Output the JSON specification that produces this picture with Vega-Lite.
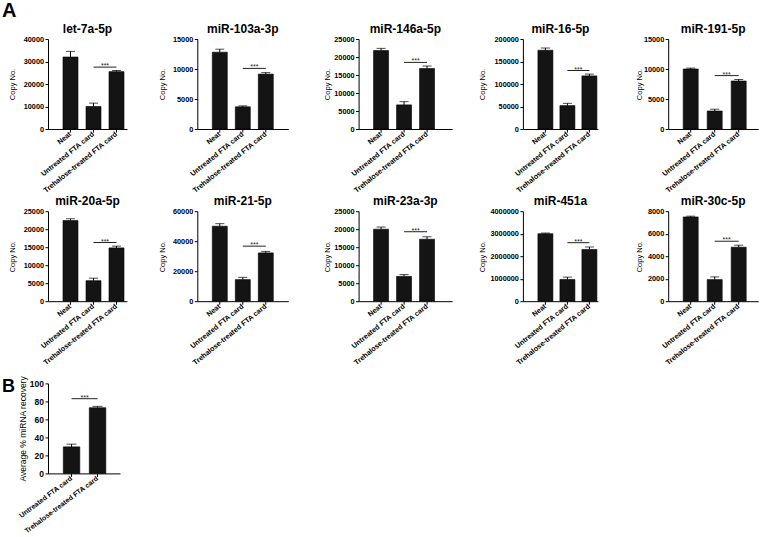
{
"$schema": "https://vega.github.io/schema/vega-lite/v6.json",
"background": "white",
"padding": {"left": 2, "top": 1, "right": 0, "bottom": 0},
"title": {"text": "A", "anchor": "start", "frame": "group", "fontSize": 20, "offset": 2, "dx": -46},
"columns": 5,
"align": "each",
"bounds": "flush",
"spacing": {"row": 82.2, "column": 70.3},
"datasets": {
"bars": [
{"panel": "let-7a-5p", "group": "Neat", "value": 32000, "upper": 34500},
{"panel": "let-7a-5p", "group": "Untreated FTA card", "value": 10000, "upper": 11500},
{"panel": "let-7a-5p", "group": "Trehalose-treated FTA card", "value": 25500, "upper": 26000},
{"panel": "miR-103a-3p", "group": "Neat", "value": 12800, "upper": 13300},
{"panel": "miR-103a-3p", "group": "Untreated FTA card", "value": 3700, "upper": 3850},
{"panel": "miR-103a-3p", "group": "Trehalose-treated FTA card", "value": 9150, "upper": 9400},
{"panel": "miR-146a-5p", "group": "Neat", "value": 21800, "upper": 22400},
{"panel": "miR-146a-5p", "group": "Untreated FTA card", "value": 6700, "upper": 7600},
{"panel": "miR-146a-5p", "group": "Trehalose-treated FTA card", "value": 16800, "upper": 17500},
{"panel": "miR-16-5p", "group": "Neat", "value": 175000, "upper": 180000},
{"panel": "miR-16-5p", "group": "Untreated FTA card", "value": 52000, "upper": 57000},
{"panel": "miR-16-5p", "group": "Trehalose-treated FTA card", "value": 118000, "upper": 122000},
{"panel": "miR-191-5p", "group": "Neat", "value": 10000, "upper": 10150},
{"panel": "miR-191-5p", "group": "Untreated FTA card", "value": 3000, "upper": 3300},
{"panel": "miR-191-5p", "group": "Trehalose-treated FTA card", "value": 8000, "upper": 8250},
{"panel": "miR-20a-5p", "group": "Neat", "value": 22400, "upper": 22900},
{"panel": "miR-20a-5p", "group": "Untreated FTA card", "value": 5700, "upper": 6400},
{"panel": "miR-20a-5p", "group": "Trehalose-treated FTA card", "value": 14800, "upper": 15300},
{"panel": "miR-21-5p", "group": "Neat", "value": 50000, "upper": 51700},
{"panel": "miR-21-5p", "group": "Untreated FTA card", "value": 14400, "upper": 15900},
{"panel": "miR-21-5p", "group": "Trehalose-treated FTA card", "value": 32200, "upper": 33200},
{"panel": "miR-23a-3p", "group": "Neat", "value": 20000, "upper": 20600},
{"panel": "miR-23a-3p", "group": "Untreated FTA card", "value": 6900, "upper": 7400},
{"panel": "miR-23a-3p", "group": "Trehalose-treated FTA card", "value": 17200, "upper": 17900},
{"panel": "miR-451a", "group": "Neat", "value": 3000000, "upper": 3030000},
{"panel": "miR-451a", "group": "Untreated FTA card", "value": 965000, "upper": 1070000},
{"panel": "miR-451a", "group": "Trehalose-treated FTA card", "value": 2300000, "upper": 2410000},
{"panel": "miR-30c-5p", "group": "Neat", "value": 7490, "upper": 7560},
{"panel": "miR-30c-5p", "group": "Untreated FTA card", "value": 1920, "upper": 2160},
{"panel": "miR-30c-5p", "group": "Trehalose-treated FTA card", "value": 4800, "upper": 4980},
{"panel": "B", "group": "Untreated FTA card", "value": 29.5, "upper": 32.5},
{"panel": "B", "group": "Trehalose-treated FTA card", "value": 73, "upper": 74.5}
],
"sig": [
{"panel": "let-7a-5p", "from": "Untreated FTA card", "to": "Trehalose-treated FTA card", "y": 27500, "label": "***"},
{"panel": "miR-103a-3p", "from": "Untreated FTA card", "to": "Trehalose-treated FTA card", "y": 10100, "label": "***"},
{"panel": "miR-146a-5p", "from": "Untreated FTA card", "to": "Trehalose-treated FTA card", "y": 18500, "label": "***"},
{"panel": "miR-16-5p", "from": "Untreated FTA card", "to": "Trehalose-treated FTA card", "y": 130000, "label": "***"},
{"panel": "miR-191-5p", "from": "Untreated FTA card", "to": "Trehalose-treated FTA card", "y": 8900, "label": "***"},
{"panel": "miR-20a-5p", "from": "Untreated FTA card", "to": "Trehalose-treated FTA card", "y": 16300, "label": "***"},
{"panel": "miR-21-5p", "from": "Untreated FTA card", "to": "Trehalose-treated FTA card", "y": 36700, "label": "***"},
{"panel": "miR-23a-3p", "from": "Untreated FTA card", "to": "Trehalose-treated FTA card", "y": 19300, "label": "***"},
{"panel": "miR-451a", "from": "Untreated FTA card", "to": "Trehalose-treated FTA card", "y": 2600000, "label": "***"},
{"panel": "miR-30c-5p", "from": "Untreated FTA card", "to": "Trehalose-treated FTA card", "y": 5330, "label": "***"},
{"panel": "B", "from": "Untreated FTA card", "to": "Trehalose-treated FTA card", "y": 83, "label": "***"}
]
},
"concat": [
{"width": 79, "height": 90, "title": "let-7a-5p", "layer": [
 {"data": {"name": "bars"}, "transform": [{"filter": "datum.panel === 'let-7a-5p'"}], "mark": {"type": "bar", "color": "#141414", "stroke": "#000", "strokeWidth": 0.6},
  "encoding": {"x": {"field": "group", "type": "nominal", "scale": {"domain": ["Neat", "Untreated FTA card", "Trehalose-treated FTA card"], "paddingInner": 0.348, "paddingOuter": 0.391, "align": 0.833}, "axis": {"title": null}},
   "y": {"field": "value", "type": "quantitative", "scale": {"domain": [0, 40000], "nice": false}, "axis": {"title": "Copy No.", "values": [0, 10000, 20000, 30000, 40000], "tickCount": 12, "format": "d", "minExtent": 29.25, "maxExtent": 29.25}}}},
 {"data": {"name": "bars"}, "transform": [{"filter": "datum.panel === 'let-7a-5p'"}], "mark": {"type": "rule", "color": "#000", "strokeWidth": 1},
  "encoding": {"x": {"field": "group", "type": "nominal", "title": null}, "y": {"field": "value", "type": "quantitative"}, "y2": {"field": "upper"}}},
 {"data": {"name": "bars"}, "transform": [{"filter": "datum.panel === 'let-7a-5p'"}], "mark": {"type": "tick", "orient": "horizontal", "color": "#000", "thickness": 1, "size": 9},
  "encoding": {"x": {"field": "group", "type": "nominal", "title": null}, "y": {"field": "upper", "type": "quantitative"}}},
 {"data": {"name": "sig"}, "transform": [{"filter": "datum.panel === 'let-7a-5p'"}], "mark": {"type": "rule", "color": "#222", "strokeWidth": 1},
  "encoding": {"x": {"field": "from", "type": "nominal", "title": null}, "x2": {"field": "to"}, "y": {"field": "y", "type": "quantitative"}}},
 {"data": {"name": "sig"}, "transform": [{"filter": "datum.panel === 'let-7a-5p'"}], "mark": {"type": "text", "fontSize": 7, "baseline": "alphabetic", "dy": 1, "color": "#222"},
  "encoding": {"x": {"field": "from", "type": "nominal", "bandPosition": 1.267, "title": null}, "y": {"field": "y", "type": "quantitative"}, "text": {"field": "label"}}}
]},
{"width": 91, "height": 90, "title": "miR-103a-3p", "layer": [
 {"data": {"name": "bars"}, "transform": [{"filter": "datum.panel === 'miR-103a-3p'"}], "mark": {"type": "bar", "color": "#141414", "stroke": "#000", "strokeWidth": 0.6},
  "encoding": {"x": {"field": "group", "type": "nominal", "scale": {"domain": ["Neat", "Untreated FTA card", "Trehalose-treated FTA card"], "paddingInner": 0.348, "paddingOuter": 0.652, "align": 0.5}, "axis": {"title": null}},
   "y": {"field": "value", "type": "quantitative", "scale": {"domain": [0, 15000], "nice": false}, "axis": {"title": "Copy No.", "values": [0, 5000, 10000, 15000], "tickCount": 12, "format": "d", "minExtent": 28.55, "maxExtent": 28.55}}}},
 {"data": {"name": "bars"}, "transform": [{"filter": "datum.panel === 'miR-103a-3p'"}], "mark": {"type": "rule", "color": "#000", "strokeWidth": 1},
  "encoding": {"x": {"field": "group", "type": "nominal", "title": null}, "y": {"field": "value", "type": "quantitative"}, "y2": {"field": "upper"}}},
 {"data": {"name": "bars"}, "transform": [{"filter": "datum.panel === 'miR-103a-3p'"}], "mark": {"type": "tick", "orient": "horizontal", "color": "#000", "thickness": 1, "size": 9},
  "encoding": {"x": {"field": "group", "type": "nominal", "title": null}, "y": {"field": "upper", "type": "quantitative"}}},
 {"data": {"name": "sig"}, "transform": [{"filter": "datum.panel === 'miR-103a-3p'"}], "mark": {"type": "rule", "color": "#222", "strokeWidth": 1},
  "encoding": {"x": {"field": "from", "type": "nominal", "title": null}, "x2": {"field": "to"}, "y": {"field": "y", "type": "quantitative"}}},
 {"data": {"name": "sig"}, "transform": [{"filter": "datum.panel === 'miR-103a-3p'"}], "mark": {"type": "text", "fontSize": 7, "baseline": "alphabetic", "dy": 1, "color": "#222"},
  "encoding": {"x": {"field": "from", "type": "nominal", "bandPosition": 1.267, "title": null}, "y": {"field": "y", "type": "quantitative"}, "text": {"field": "label"}}}
]},
{"width": 93.5, "height": 90, "title": "miR-146a-5p", "layer": [
 {"data": {"name": "bars"}, "transform": [{"filter": "datum.panel === 'miR-146a-5p'"}], "mark": {"type": "bar", "color": "#141414", "stroke": "#000", "strokeWidth": 0.6},
  "encoding": {"x": {"field": "group", "type": "nominal", "scale": {"domain": ["Neat", "Untreated FTA card", "Trehalose-treated FTA card"], "paddingInner": 0.348, "paddingOuter": 0.707, "align": 0.46}, "axis": {"title": null}},
   "y": {"field": "value", "type": "quantitative", "scale": {"domain": [0, 25000], "nice": false}, "axis": {"title": "Copy No.", "values": [0, 5000, 10000, 15000, 20000, 25000], "tickCount": 12, "format": "d", "minExtent": 25.25, "maxExtent": 25.25}}}},
 {"data": {"name": "bars"}, "transform": [{"filter": "datum.panel === 'miR-146a-5p'"}], "mark": {"type": "rule", "color": "#000", "strokeWidth": 1},
  "encoding": {"x": {"field": "group", "type": "nominal", "title": null}, "y": {"field": "value", "type": "quantitative"}, "y2": {"field": "upper"}}},
 {"data": {"name": "bars"}, "transform": [{"filter": "datum.panel === 'miR-146a-5p'"}], "mark": {"type": "tick", "orient": "horizontal", "color": "#000", "thickness": 1, "size": 9},
  "encoding": {"x": {"field": "group", "type": "nominal", "title": null}, "y": {"field": "upper", "type": "quantitative"}}},
 {"data": {"name": "sig"}, "transform": [{"filter": "datum.panel === 'miR-146a-5p'"}], "mark": {"type": "rule", "color": "#222", "strokeWidth": 1},
  "encoding": {"x": {"field": "from", "type": "nominal", "title": null}, "x2": {"field": "to"}, "y": {"field": "y", "type": "quantitative"}}},
 {"data": {"name": "sig"}, "transform": [{"filter": "datum.panel === 'miR-146a-5p'"}], "mark": {"type": "text", "fontSize": 7, "baseline": "alphabetic", "dy": 1, "color": "#222"},
  "encoding": {"x": {"field": "from", "type": "nominal", "bandPosition": 1.267, "title": null}, "y": {"field": "y", "type": "quantitative"}, "text": {"field": "label"}}}
]},
{"width": 75, "height": 90, "title": "miR-16-5p", "layer": [
 {"data": {"name": "bars"}, "transform": [{"filter": "datum.panel === 'miR-16-5p'"}], "mark": {"type": "bar", "color": "#141414", "stroke": "#000", "strokeWidth": 0.6},
  "encoding": {"x": {"field": "group", "type": "nominal", "scale": {"domain": ["Neat", "Untreated FTA card", "Trehalose-treated FTA card"], "paddingInner": 0.318, "paddingOuter": 0.364, "align": 0.9375}, "axis": {"title": null}},
   "y": {"field": "value", "type": "quantitative", "scale": {"domain": [0, 200000], "nice": false}, "axis": {"title": "Copy No.", "values": [0, 50000, 100000, 150000, 200000], "tickCount": 12, "format": "d", "minExtent": 34.65, "maxExtent": 34.65}}}},
 {"data": {"name": "bars"}, "transform": [{"filter": "datum.panel === 'miR-16-5p'"}], "mark": {"type": "rule", "color": "#000", "strokeWidth": 1},
  "encoding": {"x": {"field": "group", "type": "nominal", "title": null}, "y": {"field": "value", "type": "quantitative"}, "y2": {"field": "upper"}}},
 {"data": {"name": "bars"}, "transform": [{"filter": "datum.panel === 'miR-16-5p'"}], "mark": {"type": "tick", "orient": "horizontal", "color": "#000", "thickness": 1, "size": 9},
  "encoding": {"x": {"field": "group", "type": "nominal", "title": null}, "y": {"field": "upper", "type": "quantitative"}}},
 {"data": {"name": "sig"}, "transform": [{"filter": "datum.panel === 'miR-16-5p'"}], "mark": {"type": "rule", "color": "#222", "strokeWidth": 1},
  "encoding": {"x": {"field": "from", "type": "nominal", "title": null}, "x2": {"field": "to"}, "y": {"field": "y", "type": "quantitative"}}},
 {"data": {"name": "sig"}, "transform": [{"filter": "datum.panel === 'miR-16-5p'"}], "mark": {"type": "text", "fontSize": 7, "baseline": "alphabetic", "dy": 1, "color": "#222"},
  "encoding": {"x": {"field": "from", "type": "nominal", "bandPosition": 1.233, "title": null}, "y": {"field": "y", "type": "quantitative"}, "text": {"field": "label"}}}
]},
{"width": 90, "height": 90, "title": "miR-191-5p", "layer": [
 {"data": {"name": "bars"}, "transform": [{"filter": "datum.panel === 'miR-191-5p'"}], "mark": {"type": "bar", "color": "#141414", "stroke": "#000", "strokeWidth": 0.6},
  "encoding": {"x": {"field": "group", "type": "nominal", "scale": {"domain": ["Neat", "Untreated FTA card", "Trehalose-treated FTA card"], "paddingInner": 0.375, "paddingOuter": 0.5625, "align": 0.556}, "axis": {"title": null}},
   "y": {"field": "value", "type": "quantitative", "scale": {"domain": [0, 15000], "nice": false}, "axis": {"title": "Copy No.", "values": [0, 5000, 10000, 15000], "tickCount": 12, "format": "d", "minExtent": 23, "maxExtent": 23}}}},
 {"data": {"name": "bars"}, "transform": [{"filter": "datum.panel === 'miR-191-5p'"}], "mark": {"type": "rule", "color": "#000", "strokeWidth": 1},
  "encoding": {"x": {"field": "group", "type": "nominal", "title": null}, "y": {"field": "value", "type": "quantitative"}, "y2": {"field": "upper"}}},
 {"data": {"name": "bars"}, "transform": [{"filter": "datum.panel === 'miR-191-5p'"}], "mark": {"type": "tick", "orient": "horizontal", "color": "#000", "thickness": 1, "size": 9},
  "encoding": {"x": {"field": "group", "type": "nominal", "title": null}, "y": {"field": "upper", "type": "quantitative"}}},
 {"data": {"name": "sig"}, "transform": [{"filter": "datum.panel === 'miR-191-5p'"}], "mark": {"type": "rule", "color": "#222", "strokeWidth": 1},
  "encoding": {"x": {"field": "from", "type": "nominal", "title": null}, "x2": {"field": "to"}, "y": {"field": "y", "type": "quantitative"}}},
 {"data": {"name": "sig"}, "transform": [{"filter": "datum.panel === 'miR-191-5p'"}], "mark": {"type": "text", "fontSize": 7, "baseline": "alphabetic", "dy": 1, "color": "#222"},
  "encoding": {"x": {"field": "from", "type": "nominal", "bandPosition": 1.3, "title": null}, "y": {"field": "y", "type": "quantitative"}, "text": {"field": "label"}}}
]},
{"width": 79, "height": 90, "title": "miR-20a-5p", "layer": [
 {"data": {"name": "bars"}, "transform": [{"filter": "datum.panel === 'miR-20a-5p'"}], "mark": {"type": "bar", "color": "#141414", "stroke": "#000", "strokeWidth": 0.6},
  "encoding": {"x": {"field": "group", "type": "nominal", "scale": {"domain": ["Neat", "Untreated FTA card", "Trehalose-treated FTA card"], "paddingInner": 0.348, "paddingOuter": 0.391, "align": 0.833}, "axis": {"title": null}},
   "y": {"field": "value", "type": "quantitative", "scale": {"domain": [0, 25000], "nice": false}, "axis": {"title": "Copy No.", "values": [0, 5000, 10000, 15000, 20000, 25000], "tickCount": 12, "format": "d", "minExtent": 29.25, "maxExtent": 29.25}}}},
 {"data": {"name": "bars"}, "transform": [{"filter": "datum.panel === 'miR-20a-5p'"}], "mark": {"type": "rule", "color": "#000", "strokeWidth": 1},
  "encoding": {"x": {"field": "group", "type": "nominal", "title": null}, "y": {"field": "value", "type": "quantitative"}, "y2": {"field": "upper"}}},
 {"data": {"name": "bars"}, "transform": [{"filter": "datum.panel === 'miR-20a-5p'"}], "mark": {"type": "tick", "orient": "horizontal", "color": "#000", "thickness": 1, "size": 9},
  "encoding": {"x": {"field": "group", "type": "nominal", "title": null}, "y": {"field": "upper", "type": "quantitative"}}},
 {"data": {"name": "sig"}, "transform": [{"filter": "datum.panel === 'miR-20a-5p'"}], "mark": {"type": "rule", "color": "#222", "strokeWidth": 1},
  "encoding": {"x": {"field": "from", "type": "nominal", "title": null}, "x2": {"field": "to"}, "y": {"field": "y", "type": "quantitative"}}},
 {"data": {"name": "sig"}, "transform": [{"filter": "datum.panel === 'miR-20a-5p'"}], "mark": {"type": "text", "fontSize": 7, "baseline": "alphabetic", "dy": 1, "color": "#222"},
  "encoding": {"x": {"field": "from", "type": "nominal", "bandPosition": 1.267, "title": null}, "y": {"field": "y", "type": "quantitative"}, "text": {"field": "label"}}}
]},
{"width": 91, "height": 90, "title": "miR-21-5p", "layer": [
 {"data": {"name": "bars"}, "transform": [{"filter": "datum.panel === 'miR-21-5p'"}], "mark": {"type": "bar", "color": "#141414", "stroke": "#000", "strokeWidth": 0.6},
  "encoding": {"x": {"field": "group", "type": "nominal", "scale": {"domain": ["Neat", "Untreated FTA card", "Trehalose-treated FTA card"], "paddingInner": 0.348, "paddingOuter": 0.652, "align": 0.5}, "axis": {"title": null}},
   "y": {"field": "value", "type": "quantitative", "scale": {"domain": [0, 60000], "nice": false}, "axis": {"title": "Copy No.", "values": [0, 20000, 40000, 60000], "tickCount": 12, "format": "d", "minExtent": 28.55, "maxExtent": 28.55}}}},
 {"data": {"name": "bars"}, "transform": [{"filter": "datum.panel === 'miR-21-5p'"}], "mark": {"type": "rule", "color": "#000", "strokeWidth": 1},
  "encoding": {"x": {"field": "group", "type": "nominal", "title": null}, "y": {"field": "value", "type": "quantitative"}, "y2": {"field": "upper"}}},
 {"data": {"name": "bars"}, "transform": [{"filter": "datum.panel === 'miR-21-5p'"}], "mark": {"type": "tick", "orient": "horizontal", "color": "#000", "thickness": 1, "size": 9},
  "encoding": {"x": {"field": "group", "type": "nominal", "title": null}, "y": {"field": "upper", "type": "quantitative"}}},
 {"data": {"name": "sig"}, "transform": [{"filter": "datum.panel === 'miR-21-5p'"}], "mark": {"type": "rule", "color": "#222", "strokeWidth": 1},
  "encoding": {"x": {"field": "from", "type": "nominal", "title": null}, "x2": {"field": "to"}, "y": {"field": "y", "type": "quantitative"}}},
 {"data": {"name": "sig"}, "transform": [{"filter": "datum.panel === 'miR-21-5p'"}], "mark": {"type": "text", "fontSize": 7, "baseline": "alphabetic", "dy": 1, "color": "#222"},
  "encoding": {"x": {"field": "from", "type": "nominal", "bandPosition": 1.267, "title": null}, "y": {"field": "y", "type": "quantitative"}, "text": {"field": "label"}}}
]},
{"width": 93.5, "height": 90, "title": "miR-23a-3p", "layer": [
 {"data": {"name": "bars"}, "transform": [{"filter": "datum.panel === 'miR-23a-3p'"}], "mark": {"type": "bar", "color": "#141414", "stroke": "#000", "strokeWidth": 0.6},
  "encoding": {"x": {"field": "group", "type": "nominal", "scale": {"domain": ["Neat", "Untreated FTA card", "Trehalose-treated FTA card"], "paddingInner": 0.348, "paddingOuter": 0.707, "align": 0.46}, "axis": {"title": null}},
   "y": {"field": "value", "type": "quantitative", "scale": {"domain": [0, 25000], "nice": false}, "axis": {"title": "Copy No.", "values": [0, 5000, 10000, 15000, 20000, 25000], "tickCount": 12, "format": "d", "minExtent": 25.25, "maxExtent": 25.25}}}},
 {"data": {"name": "bars"}, "transform": [{"filter": "datum.panel === 'miR-23a-3p'"}], "mark": {"type": "rule", "color": "#000", "strokeWidth": 1},
  "encoding": {"x": {"field": "group", "type": "nominal", "title": null}, "y": {"field": "value", "type": "quantitative"}, "y2": {"field": "upper"}}},
 {"data": {"name": "bars"}, "transform": [{"filter": "datum.panel === 'miR-23a-3p'"}], "mark": {"type": "tick", "orient": "horizontal", "color": "#000", "thickness": 1, "size": 9},
  "encoding": {"x": {"field": "group", "type": "nominal", "title": null}, "y": {"field": "upper", "type": "quantitative"}}},
 {"data": {"name": "sig"}, "transform": [{"filter": "datum.panel === 'miR-23a-3p'"}], "mark": {"type": "rule", "color": "#222", "strokeWidth": 1},
  "encoding": {"x": {"field": "from", "type": "nominal", "title": null}, "x2": {"field": "to"}, "y": {"field": "y", "type": "quantitative"}}},
 {"data": {"name": "sig"}, "transform": [{"filter": "datum.panel === 'miR-23a-3p'"}], "mark": {"type": "text", "fontSize": 7, "baseline": "alphabetic", "dy": 1, "color": "#222"},
  "encoding": {"x": {"field": "from", "type": "nominal", "bandPosition": 1.267, "title": null}, "y": {"field": "y", "type": "quantitative"}, "text": {"field": "label"}}}
]},
{"width": 75, "height": 90, "title": "miR-451a", "layer": [
 {"data": {"name": "bars"}, "transform": [{"filter": "datum.panel === 'miR-451a'"}], "mark": {"type": "bar", "color": "#141414", "stroke": "#000", "strokeWidth": 0.6},
  "encoding": {"x": {"field": "group", "type": "nominal", "scale": {"domain": ["Neat", "Untreated FTA card", "Trehalose-treated FTA card"], "paddingInner": 0.318, "paddingOuter": 0.364, "align": 0.9375}, "axis": {"title": null}},
   "y": {"field": "value", "type": "quantitative", "scale": {"domain": [0, 4000000], "nice": false}, "axis": {"title": "Copy No.", "values": [0, 1000000, 2000000, 3000000, 4000000], "tickCount": 12, "format": "d", "minExtent": 34.65, "maxExtent": 34.65}}}},
 {"data": {"name": "bars"}, "transform": [{"filter": "datum.panel === 'miR-451a'"}], "mark": {"type": "rule", "color": "#000", "strokeWidth": 1},
  "encoding": {"x": {"field": "group", "type": "nominal", "title": null}, "y": {"field": "value", "type": "quantitative"}, "y2": {"field": "upper"}}},
 {"data": {"name": "bars"}, "transform": [{"filter": "datum.panel === 'miR-451a'"}], "mark": {"type": "tick", "orient": "horizontal", "color": "#000", "thickness": 1, "size": 9},
  "encoding": {"x": {"field": "group", "type": "nominal", "title": null}, "y": {"field": "upper", "type": "quantitative"}}},
 {"data": {"name": "sig"}, "transform": [{"filter": "datum.panel === 'miR-451a'"}], "mark": {"type": "rule", "color": "#222", "strokeWidth": 1},
  "encoding": {"x": {"field": "from", "type": "nominal", "title": null}, "x2": {"field": "to"}, "y": {"field": "y", "type": "quantitative"}}},
 {"data": {"name": "sig"}, "transform": [{"filter": "datum.panel === 'miR-451a'"}], "mark": {"type": "text", "fontSize": 7, "baseline": "alphabetic", "dy": 1, "color": "#222"},
  "encoding": {"x": {"field": "from", "type": "nominal", "bandPosition": 1.233, "title": null}, "y": {"field": "y", "type": "quantitative"}, "text": {"field": "label"}}}
]},
{"width": 90, "height": 90, "title": "miR-30c-5p", "layer": [
 {"data": {"name": "bars"}, "transform": [{"filter": "datum.panel === 'miR-30c-5p'"}], "mark": {"type": "bar", "color": "#141414", "stroke": "#000", "strokeWidth": 0.6},
  "encoding": {"x": {"field": "group", "type": "nominal", "scale": {"domain": ["Neat", "Untreated FTA card", "Trehalose-treated FTA card"], "paddingInner": 0.375, "paddingOuter": 0.5625, "align": 0.556}, "axis": {"title": null}},
   "y": {"field": "value", "type": "quantitative", "scale": {"domain": [0, 8000], "nice": false}, "axis": {"title": "Copy No.", "values": [0, 2000, 4000, 6000, 8000], "tickCount": 12, "format": "d", "minExtent": 23, "maxExtent": 23}}}},
 {"data": {"name": "bars"}, "transform": [{"filter": "datum.panel === 'miR-30c-5p'"}], "mark": {"type": "rule", "color": "#000", "strokeWidth": 1},
  "encoding": {"x": {"field": "group", "type": "nominal", "title": null}, "y": {"field": "value", "type": "quantitative"}, "y2": {"field": "upper"}}},
 {"data": {"name": "bars"}, "transform": [{"filter": "datum.panel === 'miR-30c-5p'"}], "mark": {"type": "tick", "orient": "horizontal", "color": "#000", "thickness": 1, "size": 9},
  "encoding": {"x": {"field": "group", "type": "nominal", "title": null}, "y": {"field": "upper", "type": "quantitative"}}},
 {"data": {"name": "sig"}, "transform": [{"filter": "datum.panel === 'miR-30c-5p'"}], "mark": {"type": "rule", "color": "#222", "strokeWidth": 1},
  "encoding": {"x": {"field": "from", "type": "nominal", "title": null}, "x2": {"field": "to"}, "y": {"field": "y", "type": "quantitative"}}},
 {"data": {"name": "sig"}, "transform": [{"filter": "datum.panel === 'miR-30c-5p'"}], "mark": {"type": "text", "fontSize": 7, "baseline": "alphabetic", "dy": 1, "color": "#222"},
  "encoding": {"x": {"field": "from", "type": "nominal", "bandPosition": 1.3, "title": null}, "y": {"field": "y", "type": "quantitative"}, "text": {"field": "label"}}}
]},
{"width": 72, "height": 90, "title": {"text": "B", "anchor": "start", "frame": "group", "fontSize": 18, "dx": -46, "dy": 19}, "layer": [
 {"data": {"name": "bars"}, "transform": [{"filter": "datum.panel === 'B'"}], "mark": {"type": "bar", "color": "#141414", "stroke": "#000", "strokeWidth": 0.6},
  "encoding": {"x": {"field": "group", "type": "nominal", "scale": {"domain": ["Untreated FTA card", "Trehalose-treated FTA card"], "paddingInner": 0.365, "paddingOuter": 0.567, "align": 0.519}, "axis": {"title": null, "labelAngle": -37, "labelFontSize": 7}},
   "y": {"field": "value", "type": "quantitative", "scale": {"domain": [0, 100], "nice": false}, "axis": {"title": "Average % miRNA recovery", "titleFontSize": 8.5, "labelFontSize": 8.5, "values": [0, 20, 40, 60, 80, 100], "tickCount": 12, "format": "d", "minExtent": 18.75, "maxExtent": 18.75}}}},
 {"data": {"name": "bars"}, "transform": [{"filter": "datum.panel === 'B'"}], "mark": {"type": "rule", "color": "#000", "strokeWidth": 1},
  "encoding": {"x": {"field": "group", "type": "nominal", "title": null}, "y": {"field": "value", "type": "quantitative"}, "y2": {"field": "upper"}}},
 {"data": {"name": "bars"}, "transform": [{"filter": "datum.panel === 'B'"}], "mark": {"type": "tick", "orient": "horizontal", "color": "#000", "thickness": 1, "size": 10},
  "encoding": {"x": {"field": "group", "type": "nominal", "title": null}, "y": {"field": "upper", "type": "quantitative"}}},
 {"data": {"name": "sig"}, "transform": [{"filter": "datum.panel === 'B'"}], "mark": {"type": "rule", "color": "#222", "strokeWidth": 1},
  "encoding": {"x": {"field": "from", "type": "nominal", "title": null}, "x2": {"field": "to"}, "y": {"field": "y", "type": "quantitative"}}},
 {"data": {"name": "sig"}, "transform": [{"filter": "datum.panel === 'B'"}], "mark": {"type": "text", "fontSize": 7, "baseline": "alphabetic", "dy": 1, "color": "#222"},
  "encoding": {"x": {"field": "from", "type": "nominal", "bandPosition": 1.288, "title": null}, "y": {"field": "y", "type": "quantitative"}, "text": {"field": "label"}}}
]}
],
"config": {
 "font": "Liberation Sans",
 "view": {"stroke": null},
 "axis": {"grid": false, "domainColor": "#000", "domainWidth": 1, "tickColor": "#000", "tickWidth": 1, "tickSize": 3, "labelColor": "#000", "labelFont": "Liberation Sans", "labelFontSize": 7.3, "labelFontWeight": "bold", "labelPadding": 1.5, "labelOverlap": false, "titleColor": "#000", "titleFont": "Liberation Sans", "titleFontSize": 7.5, "titleFontWeight": "normal", "titlePadding": 2},
 "axisX": {"labelAngle": -39, "labelAlign": "right", "labelBaseline": "middle", "labelOverlap": false, "labelPadding": 1, "labelFontSize": 7.2},
 "title": {"font": "Liberation Sans", "fontSize": 12, "fontWeight": "bold", "color": "#000", "frame": "group", "offset": -1}
}
}
